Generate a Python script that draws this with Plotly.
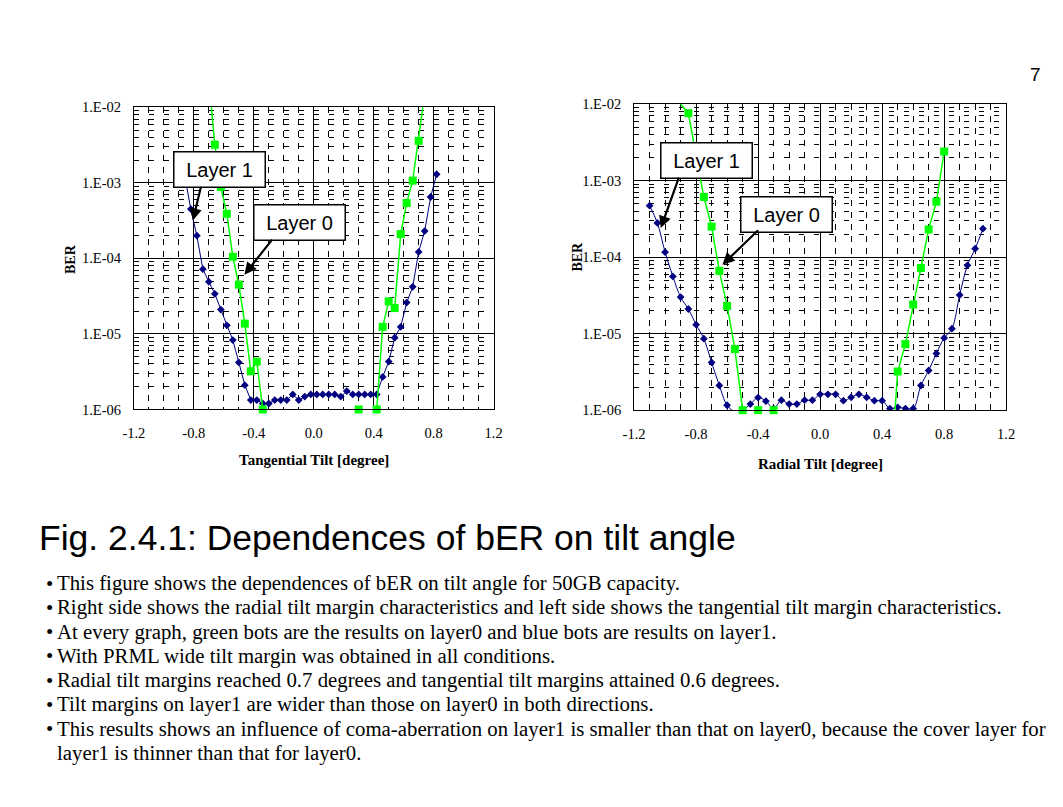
import plotly.graph_objects as go

# ---------------- data ----------------
# Tangential tilt (left chart)
tan_x_layer1 = [-0.86, -0.82, -0.78, -0.74, -0.70, -0.66, -0.62, -0.58, -0.54, -0.50, -0.46,
                -0.42, -0.38, -0.34, -0.30, -0.26, -0.22, -0.18, -0.14, -0.10, -0.06, -0.02,
                0.02, 0.06, 0.10, 0.14, 0.18, 0.22, 0.26, 0.30, 0.34, 0.38, 0.42, 0.46,
                0.50, 0.54, 0.58, 0.62, 0.66, 0.70, 0.74, 0.78, 0.82]
tan_ber_layer1 = [1.2e-3, 4.5e-4, 2.0e-4, 7.2e-5, 4.9e-5, 3.4e-5, 2.1e-5, 1.3e-5, 8.3e-6, 4.2e-6, 2.1e-6,
                  1.33e-6, 1.33e-6, 1.2e-6, 1.2e-6, 1.33e-6, 1.33e-6, 1.33e-6, 1.58e-6, 1.33e-6, 1.48e-6, 1.58e-6,
                  1.58e-6, 1.58e-6, 1.58e-6, 1.58e-6, 1.48e-6, 1.75e-6, 1.58e-6, 1.58e-6, 1.58e-6, 1.58e-6, 1.58e-6, 2.7e-6,
                  4.3e-6, 8.9e-6, 1.24e-5, 2.6e-5, 4.2e-5, 1.22e-4, 2.3e-4, 6.5e-4, 1.3e-3]
tan_x_layer0 = [-0.70, -0.66, -0.62, -0.58, -0.54, -0.50, -0.46, -0.42, -0.38, -0.34, None,
                0.30, None, 0.42, 0.46, 0.50, 0.54, 0.58, 0.62, 0.66, 0.70, 0.74]
tan_ber_layer0 = [2.3e-2, 3.2e-3, 8.8e-4, 3.9e-4, 1.05e-4, 4.5e-5, 1.37e-5, 3.2e-6, 4.3e-6, 1.0e-6, None,
                  1.0e-6, None, 1.0e-6, 1.24e-5, 2.7e-5, 2.2e-5, 2.1e-4, 5.4e-4, 1.07e-3, 3.6e-3, 1.5e-2]

# Radial tilt (right chart)
rad_x_layer1 = [-1.10, -1.05, -1.00, -0.95, -0.90, -0.85, -0.80, -0.75, -0.70, -0.65, -0.60,
                -0.55, -0.50, -0.45, -0.40, -0.35, -0.30, -0.25, -0.20, -0.15, -0.10, -0.05,
                0.00, 0.05, 0.10, 0.15, 0.20, 0.25, 0.30, 0.35, 0.40, 0.45, 0.50,
                0.55, 0.60, 0.65, 0.70, 0.75, 0.80, 0.85, 0.90, 0.95, 1.00, 1.05]
rad_ber_layer1 = [4.7e-4, 2.8e-4, 1.16e-4, 5.6e-5, 3.0e-5, 2.1e-5, 1.31e-5, 8.6e-6, 4.2e-6, 2.1e-6, 1.16e-6,
                  0.96e-6, 1.0e-6, 1.2e-6, 1.46e-6, 1.31e-6, 1.05e-6, 1.35e-6, 1.2e-6, 1.2e-6, 1.35e-6, 1.35e-6,
                  1.61e-6, 1.61e-6, 1.61e-6, 1.33e-6, 1.47e-6, 1.61e-6, 1.47e-6, 1.33e-6, 1.33e-6, 1.05e-6, 1.09e-6,
                  1.05e-6, 1.05e-6, 2.1e-6, 3.3e-6, 5.5e-6, 8.8e-6, 1.16e-5, 3.2e-5, 7.8e-5, 1.29e-4, 2.35e-4]
rad_x_layer0 = [-0.90, -0.85, -0.80, -0.75, -0.70, -0.65, -0.60, -0.55, -0.50, None, -0.40, None, -0.30, None,
                0.45, 0.50, 0.55, 0.60, 0.65, 0.70, 0.75, 0.80]
rad_ber_layer0 = [1.0e-2, 7.6e-3, 2.1e-3, 6.1e-4, 2.5e-4, 6.6e-5, 2.3e-5, 6.3e-6, 1.0e-6, None, 1.0e-6, None, 1.0e-6, None,
                  1.0e-7, 3.2e-6, 7.3e-6, 2.4e-5, 7.2e-5, 2.3e-4, 5.3e-4, 2.4e-3]

x_tick_vals = [-1.2, -0.8, -0.4, 0.0, 0.4, 0.8, 1.2]
x_tick_text = ["-1.2", "-0.8", "-0.4", "0.0", "0.4", "0.8", "1.2"]
y_tick_vals = [1e-6, 1e-5, 1e-4, 1e-3, 1e-2]
y_tick_text = ["1.E-06", "1.E-05", "1.E-04", "1.E-03", "1.E-02"]

title_text = "Fig. 2.4.1: Dependences of bER on tilt angle"
bullet_lines = [
    "This figure shows the dependences of bER on tilt angle for 50GB capacity.",
    "Right side shows the radial tilt margin characteristics and left side shows the tangential tilt margin characteristics.",
    "At every graph, green bots are the results on layer0 and blue bots are results on layer1.",
    "With PRML wide tilt margin was obtained in all conditions.",
    "Radial tilt margins reached 0.7 degrees and tangential tilt margins attained 0.6 degrees.",
    "Tilt margins on layer1 are wider than those on layer0 in both directions.",
    "This results shows an influence of coma-aberration on layer1 is smaller than that on layer0, because the cover layer for",
]
bullet_continuation = "layer1 is thinner than that for layer0."

# ---------------- helpers ----------------
W, H = 1063, 807
# the photographed page shows the figure slightly offset/scaled; positions below are
# given in target-picture pixels and mapped back to figure pixels
OX, OY, S = 17.7, 16.8, 0.982

def px(x):
    return ((x - OX) / S) / W
def py(y):
    return 1 - ((y - OY) / S) / H

BLUE = "#000080"
GREEN = "#00FF00"
SERIF = "Liberation Serif"
SANS = "Liberation Sans"

fig = go.Figure()

def add_series(xs, ys, xa, ya, color, symbol, msize, lw, shape="linear", clip=True):
    fig.add_trace(go.Scatter(
        x=xs, y=ys, xaxis=xa, yaxis=ya, mode="lines+markers",
        line=dict(color=color, width=lw, shape=shape),
        marker=dict(color=color, symbol=symbol, size=msize, line=dict(width=0)),
        connectgaps=False, cliponaxis=clip, showlegend=False, hoverinfo="x+y"))

add_series(tan_x_layer1, tan_ber_layer1, "x", "y", BLUE, "diamond", 6, 1)
add_series(tan_x_layer0, tan_ber_layer0, "x", "y", GREEN, "square", 8, 1.5, clip=False)
add_series(rad_x_layer1, rad_ber_layer1, "x2", "y2", BLUE, "diamond", 6, 1, shape="spline")
add_series(rad_x_layer0, rad_ber_layer0, "x2", "y2", GREEN, "square", 8, 1.5, clip=False)

tickfont = dict(family=SERIF, size=14.5, color="black")

def xaxis_cfg(domain, anchor):
    return dict(domain=domain, anchor=anchor, range=[-1.2, 1.2],
                tickmode="array", tickvals=x_tick_vals, ticktext=x_tick_text,
                showgrid=True, gridcolor="black", gridwidth=1,
                showline=True, mirror=True, linecolor="black", linewidth=1,
                ticks="", zeroline=False, tickfont=tickfont, ticklabelstandoff=10,
                minor=dict(dtick=0.1, tick0=0, showgrid=True, gridcolor="black",
                           gridwidth=1, griddash="6px,6px", ticks=""))

def yaxis_cfg(domain, anchor):
    return dict(domain=domain, anchor=anchor, type="log", range=[-6, -2],
                tickmode="array", tickvals=y_tick_vals, ticktext=y_tick_text,
                showgrid=True, gridcolor="black", gridwidth=1,
                showline=True, mirror=True, linecolor="black", linewidth=1,
                ticks="", zeroline=False, tickfont=tickfont, ticklabelstandoff=9,
                minor=dict(dtick="D1", showgrid=True, gridcolor="black",
                           gridwidth=1, griddash="5px,10px", ticks=""))

annotations = []

def text(x, y, s, size, family, bold=False, xanchor="center", yanchor="middle", angle=0):
    annotations.append(dict(
        x=px(x), y=py(y), xref="paper", yref="paper", text=("<b>%s</b>" % s) if bold else s,
        showarrow=False, xanchor=xanchor, yanchor=yanchor, textangle=angle,
        font=dict(family=family, size=size, color="black")))

# axis titles
text(312.7, 462, "Tangential Tilt [degree]", 15, SERIF, bold=True)
text(819.5, 466, "Radial Tilt [degree]", 15, SERIF, bold=True)
text(69, 260, "BER", 14, SERIF, bold=True, angle=-90)
text(577, 258, "BER", 14, SERIF, bold=True, angle=-90)

# layer boxes
def box(cx, cy, s):
    annotations.append(dict(
        x=px(cx), y=py(cy), xref="paper", yref="paper", text=s, showarrow=False,
        xanchor="center", yanchor="middle", width=86, height=30, borderpad=2,
        bgcolor="white", bordercolor="black", borderwidth=1.5,
        font=dict(family=SANS, size=20, color="black")))

def arrow(hx, hy, tx, ty):
    annotations.append(dict(
        x=px(hx), y=py(hy), xref="paper", yref="paper", text="", showarrow=True,
        ax=(tx - hx) / S, ay=(ty - hy) / S, axref="pixel", ayref="pixel",
        arrowhead=2, arrowsize=1.1, arrowwidth=2.2, arrowcolor="black", standoff=0))

box(218.5, 170.5, "Layer 1")
box(298.7, 224, "Layer 0")
box(705.8, 162, "Layer 1")
box(785.5, 216, "Layer 0")
arrow(191.7, 221.7, 200, 187)
arrow(243.3, 276, 271.7, 240)
arrow(660, 229.3, 678.3, 178.3)
arrow(721.7, 266, 758.3, 230.7)

# page number and title
text(1035, 75, "7", 19, SANS)
text(36, 540, title_text, 35.5, SANS, xanchor="left")

# bullets
y0 = 585
dy = 24.3
for i, line in enumerate(bullet_lines):
    text(43, y0 + i * dy, "•", 20.8, SERIF, xanchor="left")
    text(54, y0 + i * dy, line, 20.8, SERIF, xanchor="left")
text(54, y0 + len(bullet_lines) * dy, bullet_continuation, 20.8, SERIF, xanchor="left")

fig.update_layout(
    width=W, height=H, autosize=False,
    margin=dict(l=0, r=0, t=0, b=0),
    paper_bgcolor="white", plot_bgcolor="white",
    showlegend=False,
    xaxis=xaxis_cfg([px(132.7), px(492.7)], "y"),
    yaxis=yaxis_cfg([py(411), py(108.3)], "x"),
    xaxis2=xaxis_cfg([px(633.3), px(1005.7)], "y2"),
    yaxis2=yaxis_cfg([py(411.7), py(105)], "x2"),
    annotations=annotations,
)

fig.write_html("out.html")
